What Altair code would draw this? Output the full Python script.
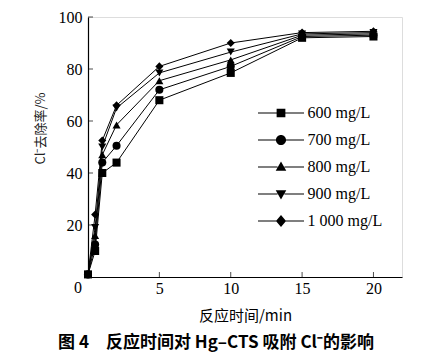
import altair as alt
import pandas as pd

times = [0, 0.5, 1, 2, 5, 10, 15, 20]
series = ["600 mg/L", "700 mg/L", "800 mg/L", "900 mg/L", "1 000 mg/L"]
v600 = [1, 10, 40, 44, 68, 78.5, 92, 92.5]
v700 = [1, 12.5, 44, 50.5, 72, 81, 92.5, 93]
v800 = [1, 16, 47, 58.5, 75.5, 83.5, 93, 93.5]
v900 = [1, 19, 50, 65, 78.5, 86.5, 93.5, 94]
v1000 = [1, 24, 52.5, 66, 81, 90, 94, 94.5]
x_ticks = [5, 10, 15, 20]
y_ticks = [20, 40, 60, 80, 100]

rows = []
for name, vals in zip(series, [v600, v700, v800, v900, v1000]):
    for t, v in zip(times, vals):
        rows.append({"t": t, "v": v, "s": name})
df = pd.DataFrame(rows)

W, H = 314, 260
SERIF = "Liberation Serif"
CJK = "Noto Sans CJK SC"

xs = alt.Scale(domain=[0, 22], nice=False)
ys = alt.Scale(domain=[0, 100], nice=False)

xaxis = alt.Axis(values=[0, 5, 10, 15, 20], labelExpr="datum.value == 0 ? '' : datum.label",
                 ticks=False, grid=False, domainColor="black", domainWidth=1.2,
                 labelFont=SERIF, labelFontSize=16, labelColor="black", labelPadding=3,
                 title="反应时间/min", titleFont=CJK, titleFontSize=15, titleFontWeight="normal",
                 titleColor="black", titlePadding=12)
yaxis = alt.Axis(values=[0, 20, 40, 60, 80, 100], labelExpr="datum.value == 0 ? '' : datum.label",
                 ticks=False, grid=False, domainColor="black", domainWidth=1.2,
                 labelFont=SERIF, labelFontSize=16, labelColor="black", labelPadding=6,
                 title="Cl⁻去除率/%", titleFont=CJK, titleFontSize=13, titleFontWeight="normal",
                 titleColor="#222", titleX=-48, titleY=111, titleAlign="center",
                 titleBaseline="middle", titleAngle=270)

base = alt.Chart(df)
lines = base.mark_line(color="black", strokeWidth=1).encode(
    x=alt.X("t:Q", scale=xs, axis=xaxis),
    y=alt.Y("v:Q", scale=ys, axis=yaxis),
    detail="s:N",
)
points = base.mark_point(filled=True, color="black", size=65, opacity=1).encode(
    x=alt.X("t:Q", scale=xs),
    y=alt.Y("v:Q", scale=ys),
    shape=alt.Shape("s:N", scale=alt.Scale(domain=series,
                    range=["square", "circle", "triangle-up", "triangle-down", "diamond"]),
                    legend=None),
)
LN = "M-2,-0.05L-0.3,-0.05L-0.3,0.05L-2,0.05ZM0.3,-0.05L2,-0.05L2,0.05L0.3,0.05Z"
paths = [
    "M-0.38,-0.38L0.38,-0.38L0.38,0.38L-0.38,0.38Z" + LN,
    "M-0.44,0A0.44,0.44,0,1,1,0.44,0A0.44,0.44,0,1,1,-0.44,0Z" + LN,
    "M0,-0.48L0.46,0.32L-0.46,0.32Z" + LN,
    "M0,0.48L-0.46,-0.32L0.46,-0.32Z" + LN,
    "M0,-0.52L0.44,0L0,0.52L-0.44,0Z" + LN,
]
legend_layer = base.mark_point(filled=True, color="black", opacity=0).encode(
    x=alt.X("t:Q", scale=xs),
    y=alt.Y("v:Q", scale=ys),
    shape=alt.Shape("s:N", scale=alt.Scale(domain=series, range=paths),
                    legend=alt.Legend(title=None, orient="none", legendX=181.5, legendY=84.5,
                                      symbolSize=529, symbolOpacity=1,
                                      symbolFillColor="black", symbolStrokeWidth=0,
                                      labelFont=SERIF, labelFontSize=16, labelColor="black",
                                      labelOffset=15, rowPadding=7, padding=0)),
)

xt = alt.Chart(pd.DataFrame({"x": x_ticks})).mark_tick(
    orient="vertical", color="black", size=5, thickness=1, yOffset=-2.5).encode(
    x=alt.X("x:Q", scale=xs), y=alt.value(H))
yt = alt.Chart(pd.DataFrame({"y": y_ticks})).mark_tick(
    orient="horizontal", color="black", size=5, thickness=1, xOffset=2.5).encode(
    y=alt.Y("y:Q", scale=ys), x=alt.value(0))
origin = alt.Chart(pd.DataFrame({"x": [0], "y": [0], "l": ["0"]})).mark_text(
    font=SERIF, fontSize=16, color="black", dx=-10, dy=11).encode(
    x=alt.X("x:Q", scale=xs), y=alt.Y("y:Q", scale=ys), text="l:N")

chart = alt.layer(lines, points, legend_layer, xt, yt, origin).resolve_scale(
    shape="independent"
).properties(
    width=W, height=H,
    autosize=alt.AutoSizeParams(type="none"),
    padding={"left": 80, "top": 9, "right": 26, "bottom": 77},
    title=alt.TitleParams("图 4　反应时间对 Hg–CTS 吸附 Cl⁻的影响", orient="bottom",
                          anchor="middle", font=CJK, fontSize=17, fontWeight="bold",
                          color="black", dx=-29, offset=12),
).configure_view(stroke=None).configure(background="white")

chart.save("out.html", embed_options={"renderer": "svg", "actions": False})
